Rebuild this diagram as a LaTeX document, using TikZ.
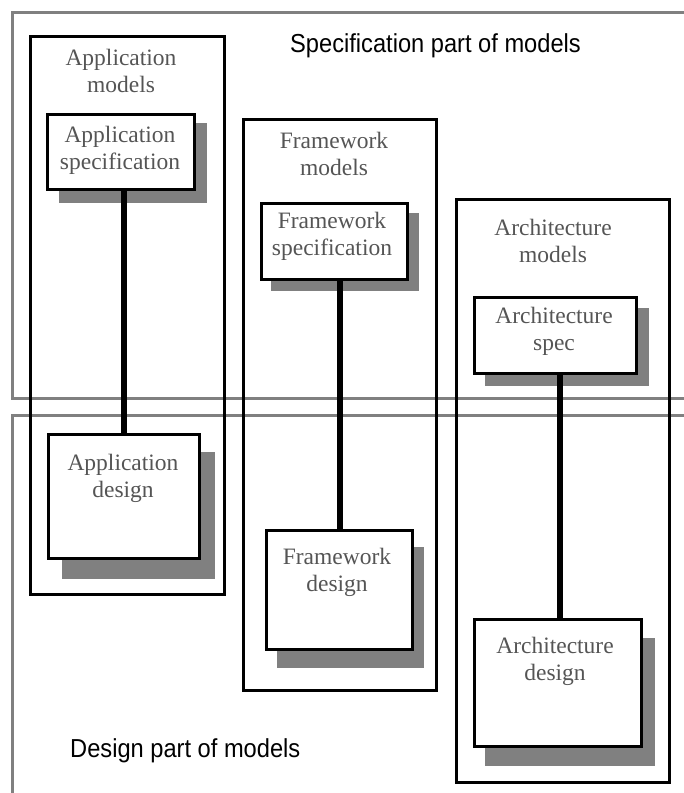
\documentclass[tikz,border=0pt]{standalone}
\usepackage{fontspec}
\setmainfont{Liberation Serif}
\newfontfamily\partfont{Liberation Sans}
\definecolor{regiongray}{RGB}{128,128,128}
\definecolor{shadowgray}{RGB}{128,128,128}
\definecolor{labelgray}{RGB}{85,85,85}
\begin{document}
\begin{tikzpicture}[x=1pt,y=-1pt,
  region/.style={draw=regiongray, line width=3pt},
  group/.style={draw=black, line width=2.8pt, rectangle, inner sep=0pt, anchor=north west},
  model/.style={draw=black, line width=3.4pt, fill=white, rectangle, inner sep=0pt, anchor=north west},
  shade/.style={fill=shadowgray, draw=none},
  link/.style={line width=6pt},
  caption/.style={font=\fontsize{23.5}{27}\selectfont, text=labelgray, align=center, inner sep=0pt, anchor=base},
  partlabel/.style={font=\partfont\fontsize{26}{30}\selectfont, inner sep=0pt, anchor=base west}
]
\useasboundingbox (0,0) rectangle (684,793);

% specification and design areas (open to the right / bottom)
\draw[region] (700,12) -- (12,12) -- (12,398) -- (700,398);
\draw[region] (700,415) -- (12,415) -- (12,810);

% model groups
\node[group, minimum width=194pt, minimum height=558pt] (appm) at (29,35) {};
\node[group, minimum width=193pt, minimum height=571pt] (frm) at (242,118) {};
\node[group, minimum width=213pt, minimum height=583pt] (arm) at (455,198) {};

% drop shadows of the model boxes
\fill[shade] (59,123) rectangle (207,203);
\fill[shade] (62,452) rectangle (215,579);
\fill[shade] (271,213) rectangle (419,291);
\fill[shade] (277,547) rectangle (424,668);
\fill[shade] (485,308) rectangle (649,386);
\fill[shade] (485,638) rectangle (655,766);

% model boxes
\node[model, minimum width=147pt, minimum height=75pt] (aps) at (46,113) {};
\node[model, minimum width=151pt, minimum height=124pt] (apd) at (47,433) {};
\node[model, minimum width=146pt, minimum height=76pt] (frs) at (260,202) {};
\node[model, minimum width=146pt, minimum height=119pt] (frd) at (265,529) {};
\node[model, minimum width=162pt, minimum height=76pt] (ars) at (473,296) {};
\node[model, minimum width=167pt, minimum height=127pt] (ard) at (473,618) {};

% spec-to-design links
\coordinate (xa) at (124,0);
\coordinate (xf) at (340,0);
\coordinate (xr) at (560,0);
\draw[link] (aps.south -| xa) -- (apd.north -| xa);
\draw[link] (frs.south -| xf) -- (frd.north -| xf);
\draw[link] (ars.south -| xr) -- (ard.north -| xr);

% captions (anchored at the baseline of the second line)
\node[caption] (tappm) at (121,92) {Application\\models};
\node[caption] (tfrm) at (334,175) {Framework\\models};
\node[caption] (tarm) at (553,262) {Architecture\\models};
\node[caption] (taps) at (120,169) {Application\\specification};
\node[caption] (tfrs) at (332,255) {Framework\\specification};
\node[caption] (tars) at (554,350) {Architecture\\spec};
\node[caption] (tapd) at (123,497) {Application\\design};
\node[caption] (tfrd) at (337,591) {Framework\\design};
\node[caption] (tard) at (555,680) {Architecture\\design};

% area labels
\node[partlabel] (specpart) at (290,52) {\scalebox{0.91}[1]{Specification part of models}};
\node[partlabel] (designpart) at (70,757) {\scalebox{0.91}[1]{Design part of models}};
\end{tikzpicture}
\end{document}
